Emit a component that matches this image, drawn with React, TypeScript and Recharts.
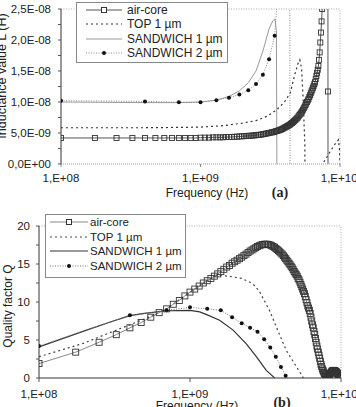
import { LineChart, Line, XAxis, YAxis, ReferenceLine, Legend } from 'recharts';

// frequencies in MHz, inductance in nH
const airFreq = [
  100, 175, 250, 325, 400, 475, 550, 625, 700, 775, 850, 925, 1000, 1075, 1150, 1225, 1300, 1375, 1450, 1525,
  1600, 1675, 1750, 1825, 1900, 1975, 2050, 2125, 2200, 2275, 2350, 2425, 2500, 2575, 2650, 2725, 2800, 2875,
  2950, 3025, 3100, 3175, 3250, 3325, 3400, 3475, 3550, 3625, 3700, 3775, 3850, 3925, 4000, 4075, 4150, 4225,
  4300, 4375, 4450, 4525, 4600, 4675, 4750, 4825, 4900, 4975, 5050, 5125, 5200, 5275, 5350, 5425, 5500, 5575,
  5650, 5725, 5800, 5875, 5950, 6025, 6100, 6175, 6250, 6325, 6400, 6475, 6550, 6625, 6700, 6775, 6850, 6925,
  7000, 7075, 7150, 7225, 7300, 7375, 7450, 7525, 7600, 7675, 7750, 7825, 7900, 7975, 8050, 8125, 8200, 8275,
  8350, 8425, 8500, 8575, 8650, 8725, 8800, 8875, 8950, 9025, 9100, 9175, 9250, 9325, 9400, 9475, 9550, 9625,
  9700, 9775, 9850, 9925, 10000,
];
const airL = [
  4.2, 4.2, 4.2, 4.2, 4.2, 4.2, 4.2, 4.2, 4.2, 4.2, 4.2, 4.2, 4.25,
  4.25, 4.25, 4.3, 4.3, 4.3, 4.3, 4.35, 4.35, 4.35, 4.4, 4.4, 4.45, 4.45,
  4.5, 4.5, 4.55, 4.55, 4.6, 4.6, 4.65, 4.7, 4.7, 4.75, 4.8, 4.85, 4.9,
  4.95, 5.0, 5.05, 5.1, 5.15, 5.2, 5.3, 5.35, 5.4, 5.5, 5.55, 5.65, 5.75,
  5.85, 5.95, 6.05, 6.15, 6.25, 6.35, 6.5, 6.6, 6.75, 6.9, 7.05, 7.2, 7.35,
  7.5, 7.7, 7.9, 8.1, 8.3, 8.5, 8.75, 9.0, 9.25, 9.5, 9.75, 10.0, 10.25,
  10.5, 10.8, 11.1, 11.4, 11.7, 12.0, 12.3, 12.6, 12.9, 13.2, 13.7, 14.2, 14.7,
  15.2, 15.8, 16.8, 18.0, 19.6, 21.2, 23.0, 25.0, 27.5, 30.5, 34, 39, 46,
  56, 72, 100, 180, 11.7, -180, -90, -60, -45,
];
const airQ = [
  1.9, 3.4, 4.7, 5.7, 6.6, 7.3, 8.0, 8.6, 9.1, 9.7, 10.2, 10.8, 11.3,
  11.7, 12.1, 12.5, 12.8, 13.1, 13.4, 13.7, 14.0, 14.3, 14.6, 14.8, 15.1, 15.3,
  15.5, 15.7, 15.9, 16.1, 16.3, 16.5, 16.7, 16.85, 17.0, 17.15, 17.3, 17.4, 17.5,
  17.55, 17.6, 17.6, 17.6, 17.55, 17.5, 17.4, 17.3, 17.2, 17.05, 16.9, 16.75, 16.6,
  16.45, 16.3, 16.1, 15.9, 15.7, 15.5, 15.3, 15.1, 14.9, 14.7, 14.5, 14.25, 14.0,
  13.8, 13.6, 13.4, 13.1, 12.9, 12.6, 12.3, 12.0, 11.7, 11.4, 11.1, 10.7, 10.3,
  9.9, 9.5, 9.2, 8.9, 8.5, 8.0, 7.5, 7.0, 6.6, 6.1, 5.7, 5.2, 4.7,
  4.2, 3.8, 3.4, 3.0, 2.6, 2.2, 1.8, 1.5, 1.2, 1.0, 0.8, 0.6, 0.5,
  0.4, 0.3, 0.2, 0.1, 0.0, 0.2, 0.3, 0.45, 0.6, 0.7, 0.8, 0.9, 0.95,
  1.0, 1.0, 1.0, 0.95, 0.9, 0.85, 0.8, 0.7, 0.6, 0.5, 0.4, 0.3, 0.2,
  0.1, 0.0, -0.1,
];

const topLFreq = [100, 200, 400, 700, 1000, 1500, 2000, 2500, 3000, 3500, 4000, 4400, 4750, 5000, 5150, 5300, 5450, 5600, 5680, 6500, 7400, 8000, 8500, 9000, 9500, 9750, 9900, 10000];
const topL = [5.85, 5.85, 5.85, 5.9, 5.95, 6.2, 6.6, 7.0, 7.7, 8.7, 10.0, 11.5, 14.5, 16.2, 16.8, 15.5, 10.3, 3, -30, -10, -0.2, 1.0, 2.0, 2.9, 3.6, 3.9, 2.5, 0];
const topQFreq = [100, 200, 250, 400, 550, 700, 1000, 1300, 1500, 1800, 2200, 2500, 2700, 2900, 3360, 3900, 4350, 5100, 5600, 5800];
const topQ = [2.8, 4.6, 5.4, 7.0, 8.1, 9.1, 11.3, 12.8, 13.5, 13.4, 13.1, 12.6, 12.1, 11.3, 8.9, 5.8, 3.6, 1.4, 0.1, -1];

const s1LFreq = [100, 200, 400, 700, 1000, 1300, 1600, 1900, 2200, 2500, 2800, 3100, 3300, 3420, 3500, 3580];
const s1L = [10.0, 9.95, 9.9, 9.9, 10.0, 10.3, 10.9, 11.8, 13.1, 15.0, 18.2, 21.8, 23.1, 23.4, 21.5, -40];
const s1QFreq = [100, 200, 300, 400, 500, 700, 1000, 1160, 1300, 1570, 1930, 2360, 2750, 3200, 3600, 3800];
const s1Q = [4.1, 6.2, 7.4, 8.2, 8.5, 8.85, 8.9, 8.7, 8.3, 7.6, 6.3, 4.5, 2.8, 1.0, 0.1, -1];

const s2Freq = [100, 400, 700, 1000, 1300, 1600, 1900, 2200, 2500, 2800, 3100, 3400, 3700, 4000, 4300, 4600];
const s2L = [10.2, 10.1, 9.95, 9.95, 10.3, 10.7, 11.2, 11.9, 12.9, 14.4, 16.9, 20.7, 32, 55, 120, -300];
const s2Q = [4.2, 8.25, 8.9, 9.3, 9.1, 8.9, 8.0, 7.2, 6.6, 6.1, 5.1, 4.0, 2.8, 1.45, 0.3, -1.0];

const freqTicks = [100, 1000, 10000];
const freqLabels = ['1,E+08', '1,E+09', '1,E+10'];
const lTicks = [0, 2.5, 5, 7.5, 10, 12.5, 15, 17.5, 20, 22.5, 25];
const lLabels = ['0,0E+00', '', '5,0E-09', '', '1,0E-08', '', '1,5E-08', '', '2,0E-08', '', '2,5E-08'];
const qTicks = [0, 2.5, 5, 7.5, 10, 12.5, 15, 17.5, 20];
const qLabels = ['0', '', '5', '', '10', '', '15', '', '20'];
const seriesNames = ['air-core', 'TOP 1 µm', 'SANDWICH 1 µm', 'SANDWICH 2 µm'];

const FONT = '"Liberation Sans", Arial, sans-serif';

const zip = (xs: number[], ys: number[]) => ys.map((y, i) => ({ x: xs[i], y }));

function SquareDot(props: any) {
  const { cx, cy, size = 5, stroke = '#333' } = props;
  if (cx == null || cy == null) return null;
  return (
    <rect x={cx - size / 2} y={cy - size / 2} width={size} height={size} fill="none" stroke={stroke} strokeWidth={0.9} />
  );
}

function RoundDot(props: any) {
  const { cx, cy } = props;
  if (cx == null || cy == null) return null;
  return <circle cx={cx} cy={cy} r={2} fill="#111" stroke="none" />;
}

type LegendItem = { name: string; stroke: string; dash?: string; width?: number; marker?: 'square' | 'dot' };

function LegendBox({ items, w, h, rows, x1, x2, textX, fontSize }: { items: LegendItem[]; w: number; h: number; rows: number[]; x1: number; x2: number; textX: number; fontSize: number }) {
  const mid = (x1 + x2) / 2;
  return (
    <svg width={w} height={h} style={{ display: 'block' }}>
      <rect x={0.5} y={0.5} width={w - 1} height={h - 1} fill="#fff" stroke="#888" />
      {items.map((it, i) => (
        <g key={it.name}>
          <line x1={x1} x2={x2} y1={rows[i]} y2={rows[i]} stroke={it.stroke} strokeDasharray={it.dash} strokeWidth={it.width ?? 1} />
          {it.marker === 'square' && <rect x={mid - 2.5} y={rows[i] - 2.5} width={5} height={5} fill="#fff" stroke="#333" />}
          {it.marker === 'dot' && <circle cx={mid} cy={rows[i]} r={2} fill="#111" />}
          <text x={textX} y={rows[i]} dominantBaseline="central" fontFamily={FONT} fontSize={fontSize} fill="#222">
            {it.name}
          </text>
        </g>
      ))}
    </svg>
  );
}

const itemsA: LegendItem[] = [
  { name: seriesNames[0], stroke: '#555', marker: 'square' },
  { name: seriesNames[1], stroke: '#333', dash: '2 3' },
  { name: seriesNames[2], stroke: '#999' },
  { name: seriesNames[3], stroke: '#888', dash: '1 1.5', marker: 'dot' },
];
const itemsB: LegendItem[] = [
  { name: seriesNames[0], stroke: '#888', marker: 'square' },
  { name: seriesNames[1], stroke: '#444', dash: '2 3' },
  { name: seriesNames[2], stroke: '#333', width: 1.2 },
  { name: seriesNames[3], stroke: '#777', dash: '1 1.5', marker: 'dot' },
];

const tickStyle = { fontFamily: FONT, fontSize: 11.5, fill: '#222' };

function InductanceChart() {
  return (
    <LineChart width={356} height={200} margin={{ top: 9, right: 16, bottom: 6, left: 0 }}>
      <XAxis
        dataKey="x"
        type="number"
        scale="log"
        domain={[100, 10000]}
        ticks={freqTicks}
        allowDataOverflow
        tickFormatter={(v: number) => freqLabels[freqTicks.indexOf(v)] ?? ''}
        height={30}
        tick={tickStyle}
        tickSize={3}
        tickMargin={7}
        axisLine={{ stroke: '#999', strokeDasharray: '1 1' }}
        tickLine={{ stroke: '#888' }}
      />
      <YAxis
        dataKey="y"
        type="number"
        domain={[0, 25]}
        ticks={lTicks}
        allowDataOverflow
        tickFormatter={(v: number) => lLabels[lTicks.indexOf(v)] ?? ''}
        width={61}
        tick={tickStyle}
        tickSize={3}
        tickMargin={7}
        axisLine={{ stroke: '#333' }}
        tickLine={{ stroke: '#555' }}
      />
      <ReferenceLine y={25} stroke="#aaa" strokeDasharray="1 1.5" />
      <ReferenceLine x={10000} stroke="#aaa" strokeDasharray="1 1.5" />
      <Line data={zip(s1LFreq, s1L)} dataKey="y" name={seriesNames[2]} stroke="#999" strokeWidth={1} dot={false} isAnimationActive={false} />
      <Line data={zip(s2Freq, s2L)} dataKey="y" name={seriesNames[3]} stroke="#888" strokeDasharray="1 1.5" strokeWidth={1} dot={<RoundDot />} isAnimationActive={false} />
      <Line data={zip(topLFreq, topL)} dataKey="y" name={seriesNames[1]} stroke="#333" strokeDasharray="2 3" strokeWidth={1.2} dot={false} isAnimationActive={false} />
      <Line data={zip(airFreq, airL)} dataKey="y" name={seriesNames[0]} stroke="#555" strokeWidth={1} dot={<SquareDot size={5} stroke="#333" />} isAnimationActive={false} />
      <Legend
        layout="horizontal"
        verticalAlign="middle"
        align="center"
        wrapperStyle={{ left: 76, top: 2, width: 152, height: 61 }}
        content={() => <LegendBox items={itemsA} w={152} h={61} rows={[8, 22, 37, 51]} x1={10} x2={46} textX={51} fontSize={12} />}
      />
    </LineChart>
  );
}

function QualityChart() {
  return (
    <LineChart width={356} height={207} margin={{ top: 26, right: 15, bottom: 7, left: 0 }}>
      <XAxis
        dataKey="x"
        type="number"
        scale="log"
        domain={[100, 10000]}
        ticks={freqTicks}
        allowDataOverflow
        tickFormatter={(v: number) => freqLabels[freqTicks.indexOf(v)] ?? ''}
        height={22}
        tick={tickStyle}
        tickSize={4}
        tickMargin={8}
        axisLine={{ stroke: '#333' }}
        tickLine={{ stroke: '#555' }}
      />
      <YAxis
        dataKey="y"
        type="number"
        domain={[0, 20]}
        ticks={qTicks}
        allowDataOverflow
        tickFormatter={(v: number) => qLabels[qTicks.indexOf(v)] ?? ''}
        width={39}
        tick={tickStyle}
        tickSize={3}
        tickMargin={6}
        axisLine={{ stroke: '#333' }}
        tickLine={{ stroke: '#555' }}
      />
      <ReferenceLine y={20} stroke="#aaa" strokeDasharray="1 1.5" />
      <ReferenceLine x={10000} stroke="#aaa" strokeDasharray="1 1.5" />
      <Line data={zip(s1QFreq, s1Q)} dataKey="y" name={seriesNames[2]} stroke="#333" strokeWidth={1.2} dot={false} isAnimationActive={false} />
      <Line data={zip(s2Freq, s2Q)} dataKey="y" name={seriesNames[3]} stroke="#777" strokeDasharray="1 1.5" strokeWidth={1} dot={<RoundDot />} isAnimationActive={false} />
      <Line data={zip(topQFreq, topQ)} dataKey="y" name={seriesNames[1]} stroke="#444" strokeDasharray="2 3" strokeWidth={1.2} dot={false} isAnimationActive={false} />
      <Line data={zip(airFreq, airQ)} dataKey="y" name={seriesNames[0]} stroke="#888" strokeWidth={1} dot={<SquareDot size={6} stroke="#333" />} isAnimationActive={false} />
      <Legend
        layout="horizontal"
        verticalAlign="middle"
        align="center"
        wrapperStyle={{ left: 45, top: 14, width: 141, height: 64 }}
        content={() => <LegendBox items={itemsB} w={141} h={64} rows={[8, 23, 37, 52]} x1={5} x2={43} textX={45} fontSize={11.5} />}
      />
    </LineChart>
  );
}

const abs = (left: number, top: number, extra: React.CSSProperties = {}): React.CSSProperties => ({
  position: 'absolute',
  left,
  top,
  transform: 'translate(-50%, -50%)',
  whiteSpace: 'nowrap',
  fontFamily: FONT,
  fontSize: 12,
  color: '#222',
  ...extra,
});

export default function App() {
  return (
    <div style={{ position: 'absolute', left: 0, top: 0, width: 356, height: 407, overflow: 'hidden', background: '#fff' }}>
      <div style={{ position: 'absolute', left: 0, top: 0 }}>
        <InductanceChart />
      </div>
      <div style={{ position: 'absolute', left: 0, top: 200 }}>
        <QualityChart />
      </div>
      <div style={abs(2, 76, { transform: 'translate(-50%, -50%) rotate(-90deg)', fontSize: 12.5 })}>Inductance value L (H)</div>
      <div style={abs(207, 193)}>Frequency (Hz)</div>
      <div style={abs(280, 193, { fontFamily: '"Liberation Serif", serif', fontWeight: 'bold', fontSize: 14 })}>(a)</div>
      <div style={abs(8, 306, { transform: 'translate(-50%, -50%) rotate(-90deg)' })}>Quality factor Q</div>
      <div style={abs(197, 406)}>Frequency (Hz)</div>
      <div style={abs(282, 403, { fontFamily: '"Liberation Serif", serif', fontWeight: 'bold', fontSize: 14 })}>(b)</div>
    </div>
  );
}
